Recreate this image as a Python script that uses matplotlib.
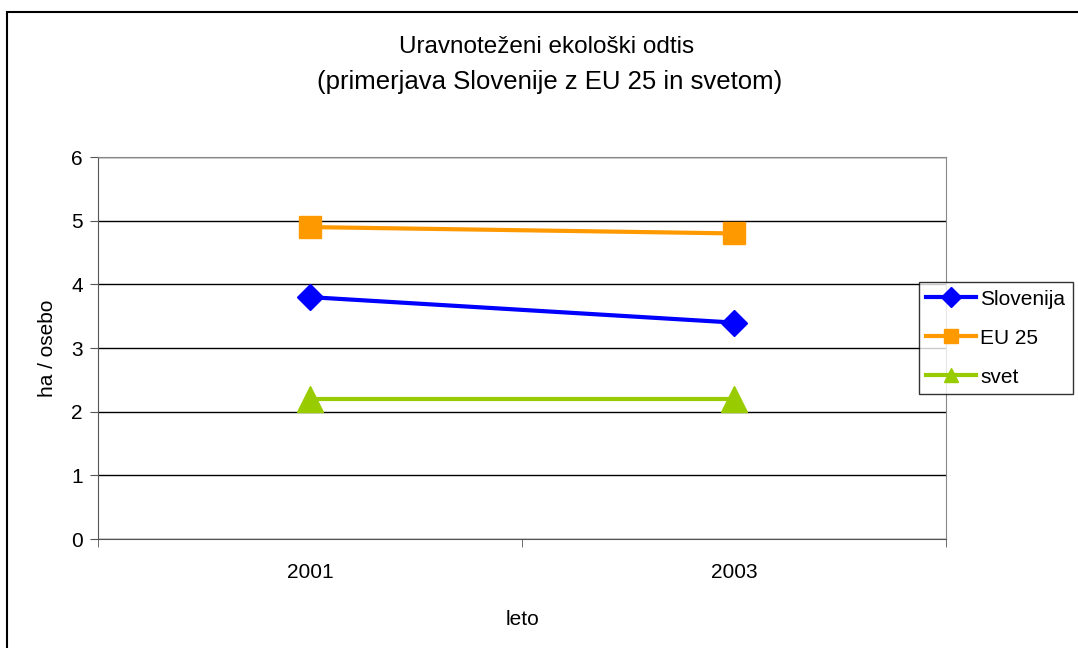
import numpy as np
import matplotlib.pyplot as plt
from matplotlib.patches import Rectangle

leta = ['2001', '2003']
slovenija = [3.8, 3.4]
eu25 = [4.9, 4.8]
svet = [2.2, 2.2]

plt.rcParams['font.family'] = ['Liberation Sans', 'DejaVu Sans']

fig = plt.figure(figsize=(10.78, 6.48), dpi=100)
ax = fig.add_axes([0.0909, 0.168, 0.7867, 0.5897])

x = np.arange(len(leta))
ax.plot(x, slovenija, color='#0000ff', linewidth=3, marker='D', markersize=13, label='Slovenija')
ax.plot(x, eu25, color='#ff9900', linewidth=3, marker='s', markersize=16, label='EU 25')
ax.plot(x, svet, color='#99cc00', linewidth=3, marker='^', markersize=19, label='svet')

ax.set_xlim(-0.5, 1.5)
ax.set_ylim(0, 6)
ax.set_yticks(range(0, 7))
ax.yaxis.grid(True, color='black', linewidth=1)
ax.set_axisbelow(True)

ax.set_xticks(x)
ax.set_xticklabels(leta)
ax.tick_params(axis='x', which='major', length=0, pad=17, labelsize=15)
ax.set_xticks([-0.5, 0.5, 1.5], minor=True)
ax.tick_params(axis='x', which='minor', length=6, direction='out', color='#555555')
ax.tick_params(axis='y', length=6, direction='out', labelsize=15, color='#555555', pad=5)

for s in ['top', 'right']:
    ax.spines[s].set_color('#888888')
ax.spines['left'].set_color('#555555')
ax.spines['bottom'].set_color('#555555')

ax.set_xlabel('leto', fontsize=15, labelpad=20)
ax.set_ylabel('ha / osebo', fontsize=15, labelpad=10)

fig.text(0.507, 0.928, 'Uravnoteženi ekološki odtis', fontsize=17.5, ha='center', va='center')
fig.text(0.510, 0.874, '(primerjava Slovenije z EU 25 in svetom)', fontsize=18.5, ha='center', va='center')

leg = ax.legend(loc='upper left', bbox_to_anchor=(0.968, 0.672), fontsize=15,
                frameon=True, fancybox=False, edgecolor='black', handlelength=2.4,
                labelspacing=0.95, handletextpad=0.2, borderpad=0.35, borderaxespad=0,
                handleheight=0.8)
leg.get_frame().set_linewidth(1)
for h in leg.legend_handles:
    h.set_markersize(10)

fig.patches.append(Rectangle((0.0065, -0.05), 1.0, 1.0315, transform=fig.transFigure,
                             fill=False, edgecolor='black', linewidth=1.5))

fig.savefig('out.png', dpi=100)
